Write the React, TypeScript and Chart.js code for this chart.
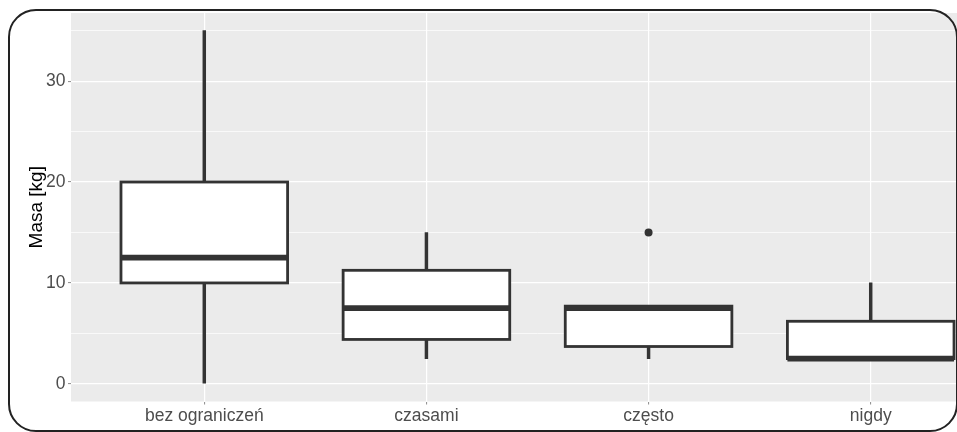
import React, { useEffect, useRef } from "react";
import { Chart, registerables } from "chart.js";

Chart.register(...registerables);

const categories = ["bez ograniczeń", "czasami", "często", "nigdy"];
const whiskerLow = [0, 2.5, 2.5, 2.5];
const q1 = [10, 4.4, 3.7, 2.5];
const median = [12.5, 7.5, 7.5, 2.5];
const q3 = [20, 11.25, 7.7, 6.2];
const whiskerHigh = [35, 15, 7.7, 10];
const outliers = [{ cat: 2, value: 15 }];
const yTicks = [0, 5, 10, 15, 20, 25, 30, 35];
const yTitle = "Masa [kg]";

const DARK = "#333333";
const FONT = "'Liberation Sans', Arial, sans-serif";

const panelBg = {
  id: "panelBg",
  beforeDraw(chart: any) {
    const { ctx, chartArea } = chart;
    ctx.save();
    ctx.fillStyle = "#EBEBEB";
    ctx.fillRect(chartArea.left, chartArea.top, chartArea.right - chartArea.left, chartArea.bottom - chartArea.top);
    ctx.restore();
  },
};

// outlines (centred on the box edges, as in ggplot) and medians
const boxOutlines = {
  id: "boxOutlines",
  afterDatasetsDraw(chart: any) {
    const { ctx } = chart;
    const meta = chart.getDatasetMeta(0);
    const y = chart.scales.y;
    ctx.save();
    ctx.strokeStyle = DARK;
    meta.data.forEach((el: any, i: number) => {
      const left = el.x - el.width / 2;
      const right = el.x + el.width / 2;
      const top = y.getPixelForValue(q3[i]);
      const bottom = y.getPixelForValue(q1[i]);
      ctx.lineWidth = 2.8;
      ctx.lineJoin = "miter";
      ctx.strokeRect(left, top, right - left, bottom - top);
      const py = y.getPixelForValue(median[i]);
      ctx.lineWidth = 5.7;
      ctx.lineCap = "butt";
      ctx.beginPath();
      ctx.moveTo(left, py);
      ctx.lineTo(right, py);
      ctx.stroke();
    });
    ctx.restore();
  },
};

export default function App() {
  const ref = useRef<HTMLCanvasElement | null>(null);
  useEffect(() => {
    if (!ref.current) return;
    const chart = new Chart(ref.current, {
      type: "bar",
      data: {
        datasets: [
          {
            type: "bar",
            data: categories.map((_, i) => ({ x: i, y: [q1[i], q3[i]] })) as any,
            backgroundColor: "#FFFFFF",
            borderWidth: 0,
            grouped: false,
            barPercentage: 0.75,
            categoryPercentage: 1,
            order: 1,
          } as any,
          {
            type: "bar",
            data: categories.map((_, i) => ({ x: i, y: [whiskerLow[i], q1[i]] })) as any,
            backgroundColor: DARK,
            borderWidth: 0,
            grouped: false,
            barThickness: 2.8,
            order: 2,
          } as any,
          {
            type: "bar",
            data: categories.map((_, i) => ({ x: i, y: [q3[i], whiskerHigh[i]] })) as any,
            backgroundColor: DARK,
            borderWidth: 0,
            grouped: false,
            barThickness: 2.8,
            order: 3,
          } as any,
          {
            type: "scatter",
            data: outliers.map((o) => ({ x: o.cat, y: o.value })),
            backgroundColor: DARK,
            borderWidth: 0,
            pointRadius: 4,
            order: 0,
          } as any,
        ],
      },
      options: {
        animation: false,
        responsive: false,
        devicePixelRatio: 1,
        layout: { padding: { top: 9.6, left: 0, right: 0, bottom: 0 } },
        plugins: { legend: { display: false }, tooltip: { enabled: false } },
        scales: {
          x: {
            type: "linear",
            min: -0.6,
            max: 3.6,
            offset: false,
            afterBuildTicks: (s: any) => {
              s.ticks = categories.map((_, i) => ({ value: i }));
            },
            afterFit: (s: any) => {
              s.height = 30.5;
            },
            ticks: {
              callback: (v: any) => categories[v as number],
              color: "#4D4D4D",
              font: { family: FONT, size: 17.5 },
              padding: 1,
              autoSkip: false,
              maxRotation: 0,
            },
            grid: {
              offset: false,
              color: "#FFFFFF",
              lineWidth: 1.2,
              tickLength: 3,
              tickColor: "#8A8A8A",
              tickWidth: 1,
            },
            border: { display: false },
          },
          y: {
            type: "linear",
            min: -1.75,
            max: 36.75,
            afterBuildTicks: (s: any) => {
              s.ticks = yTicks.map((v) => ({ value: v }));
            },
            afterFit: (s: any) => {
              s.width = 71;
            },
            ticks: {
              callback: (v: any) => ((v as number) % 10 === 0 ? String(v) : ""),
              color: "#4D4D4D",
              font: { family: FONT, size: 17.5 },
              padding: 2.5,
            },
            grid: {
              color: "#FFFFFF",
              lineWidth: (c: any) => (c.tick && c.tick.value % 10 === 0 ? 1.2 : 0.7),
              tickLength: 3,
              tickColor: (c: any) => (c.tick && c.tick.value % 10 === 0 ? "#8A8A8A" : "rgba(0,0,0,0)"),
              tickWidth: 1,
            },
            border: { display: false },
            title: {
              display: true,
              text: yTitle,
              color: "#000000",
              font: { family: FONT, size: 19 },
              padding: { top: 25, bottom: 0 },
            },
          },
        },
      },
      plugins: [panelBg, boxOutlines],
    });
    return () => chart.destroy();
  }, []);

  return (
    <div
      style={{
        position: "fixed",
        left: 0,
        top: 0,
        width: 957,
        height: 432,
        overflow: "hidden",
        background: "#FFFFFF",
      }}
    >
      <canvas
        ref={ref}
        width={1008}
        height={432}
        style={{ position: "absolute", left: 0, top: 0, width: 1008, height: 432 }}
      />
      <div
        style={{
          position: "absolute",
          left: 8,
          top: 9,
          width: 950,
          height: 422.5,
          boxSizing: "border-box",
          border: "2.8px solid #222222",
          borderRadius: 28,
          pointerEvents: "none",
        }}
      />
    </div>
  );
}
